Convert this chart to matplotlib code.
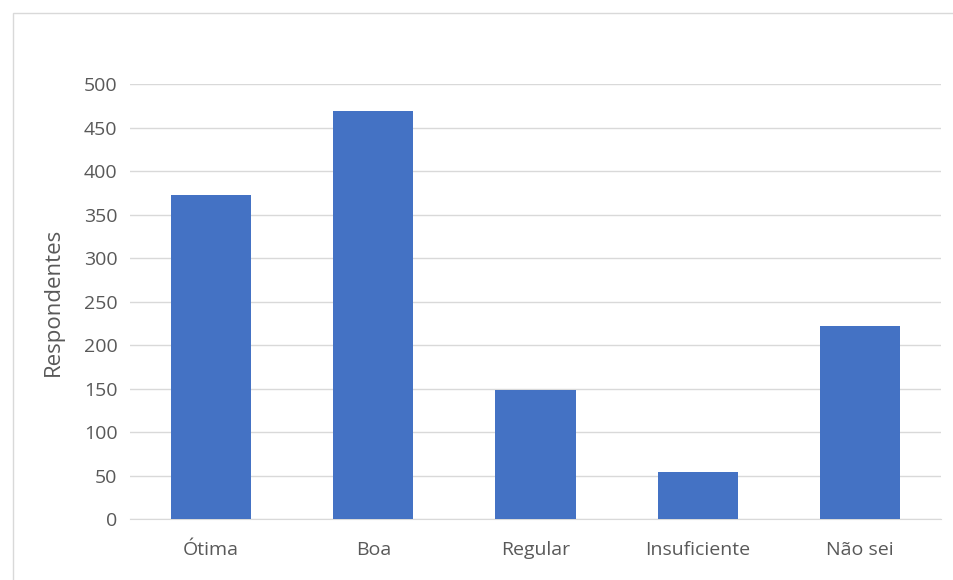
import matplotlib.pyplot as plt
from matplotlib.patches import Rectangle

categorias = ["Ótima", "Boa", "Regular", "Insuficiente", "Não sei"]
respondentes = [372, 469, 148, 54, 222]
yticks = [0, 50, 100, 150, 200, 250, 300, 350, 400, 450, 500]

plt.rcParams['font.family'] = ['Open Sans', 'DejaVu Sans']

fig = plt.figure(figsize=(9.54, 5.8), dpi=100)
ax = fig.add_axes([130 / 954, 1 - 519.3 / 580, 811 / 954, 435.3 / 580])

# moldura externa cinza clara
fig.patches.append(Rectangle((13 / 954, -0.1), 1.2, 1 - 13 / 580 + 0.1,
                             transform=fig.transFigure, fill=False,
                             edgecolor="#d9d9d9", linewidth=1))

x = range(len(categorias))
ax.bar(x, respondentes, width=0.494, color="#4472C4", zorder=3)

ax.set_xlim(-0.5, len(categorias) - 0.5)
ax.set_ylim(0, 500)
ax.set_yticks(yticks)
ax.set_xticks(list(x))
ax.set_xticklabels(categorias)
ax.yaxis.grid(True, color="#d9d9d9", linewidth=1, zorder=0)

for s in ["top", "right", "left"]:
    ax.spines[s].set_visible(False)
ax.spines["bottom"].set_color("#d9d9d9")
ax.tick_params(axis="both", length=0, colors="#595959", labelsize=14)
ax.tick_params(axis="y", pad=9)
ax.tick_params(axis="x", pad=15.5)
ax.set_ylabel("Respondentes", color="#595959", fontsize=16, labelpad=14)

fig.savefig("out.png", dpi=100)
